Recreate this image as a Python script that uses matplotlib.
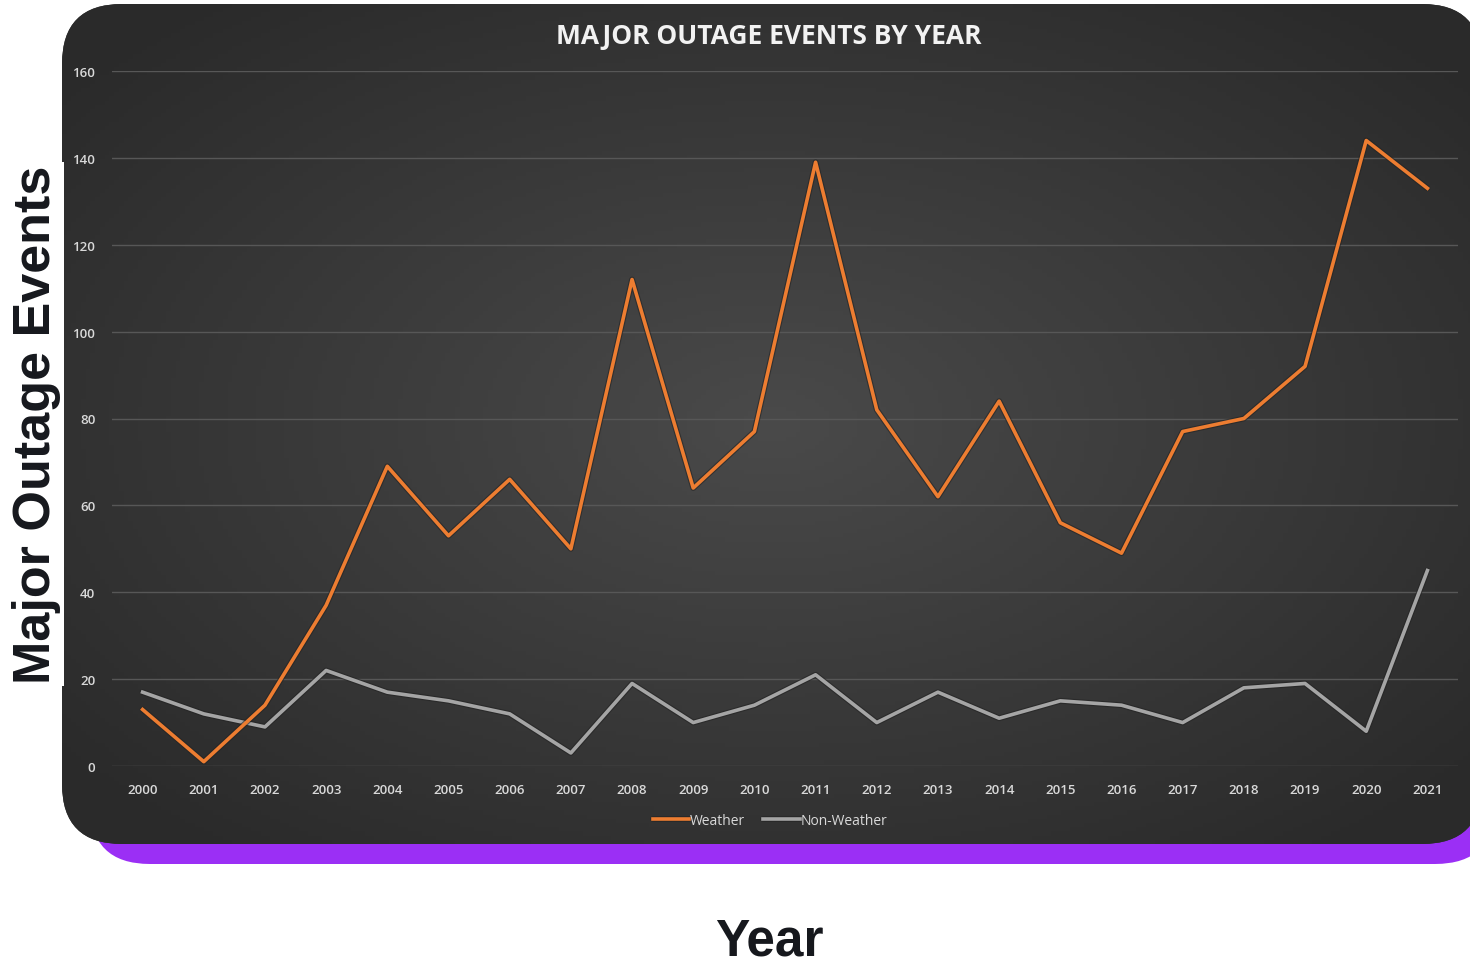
import matplotlib.pyplot as plt
import numpy as np
from matplotlib.colors import LinearSegmentedColormap
from matplotlib.patches import FancyBboxPatch
import matplotlib.patheffects as pe

# =========================
# DATA
# =========================

years = list(range(2000, 2022))
weather = [13, 1, 14, 37, 69, 53, 66, 50, 112, 64, 77, 139,
           82, 62, 84, 56, 49, 77, 80, 92, 144, 133]
non_weather = [17, 12, 9, 22, 17, 15, 12, 3, 19, 10, 14, 21,
               10, 17, 11, 15, 14, 10, 18, 19, 8, 45]
y_ticks = [0, 20, 40, 60, 80, 100, 120, 140, 160]

W, H = 1470, 970

fig = plt.figure(figsize=(W / 100, H / 100), dpi=100, facecolor="white")

# background layer in pixel coordinates
bg = fig.add_axes([0, 0, 1, 1])
bg.set_xlim(0, W)
bg.set_ylim(H, 0)
bg.axis("off")

purple = FancyBboxPatch(
    (90, 25), 1405, 840,
    boxstyle="round,pad=0,rounding_size=60",
    facecolor="#9b2ff5", edgecolor="none",
)
bg.add_patch(purple)

panel = FancyBboxPatch(
    (62, 5), 1420, 840,
    boxstyle="round,pad=0,rounding_size=60",
    facecolor="#333333", edgecolor="none",
)
bg.add_patch(panel)

# radial gradient inside the panel
gx, gy = np.meshgrid(np.linspace(-1, 1, 300), np.linspace(-1, 1, 200))
r = np.clip(np.sqrt(gx ** 2 + gy ** 2) / 1.3, 0, 1)
cmap = LinearSegmentedColormap.from_list("panel", ["#4a4a4a", "#2a2a2a"])
img = bg.imshow(r, cmap=cmap, vmin=0, vmax=1,
                extent=(62, 1482, 845, 5), aspect="auto", zorder=2)
img.set_clip_path(panel)

# =========================
# CHART
# =========================

left, right = 112, 1458
top, bottom = 72, 767
ax = fig.add_axes([left / W, 1 - bottom / H, (right - left) / W, (bottom - top) / H])
ax.set_facecolor("none")
ax.set_zorder(3)

shadow = [pe.Stroke(linewidth=4.2, foreground="#222222", alpha=0.6,
                    joinstyle="round", capstyle="round"), pe.Normal()]
ax.plot(years, weather, color="#ed7d31", linewidth=2.6, label="Weather",
        solid_joinstyle="round", path_effects=shadow, zorder=4)
ax.plot(years, non_weather, color="#a5a5a5", linewidth=2.6, label="Non-Weather",
        solid_joinstyle="round", path_effects=shadow, zorder=3)

ax.set_xlim(1999.5, 2021.5)
ax.set_ylim(0, 160)
ax.set_xticks(years)
ax.set_xticklabels([str(y) for y in years])
ax.set_yticks(y_ticks)

ax.grid(axis="y", color="#575757", linewidth=1)
ax.set_axisbelow(True)
for s in ax.spines.values():
    s.set_visible(False)

ax.tick_params(axis="both", length=0, colors="#d9d9d9", labelsize=9.5)
ax.tick_params(axis="y", pad=12)
ax.tick_params(axis="x", pad=12)
for lab in ax.get_xticklabels() + ax.get_yticklabels():
    lab.set_fontfamily("Open Sans")
    lab.set_fontweight("semibold")

leg = ax.legend(
    loc="center", bbox_to_anchor=(0.489, -0.078), ncol=2, frameon=False,
    handlelength=2.6, handletextpad=0.1, columnspacing=1.3,
    prop={"family": "Open Sans", "size": 10},
)
for t in leg.get_texts():
    t.set_color("#d9d9d9")

fig.text(769 / W, 1 - 36 / H, "MAJOR OUTAGE EVENTS BY YEAR", ha="center", va="center",
         color="#f2f2f2", fontsize=19, fontweight="bold", family="Open Sans",
         zorder=5)

fig.text(37 / W, 1 - 425 / H, "Major Outage Events", rotation=90, ha="center",
         va="center", color="#16181d", fontsize=37.5, fontweight="bold",
         family="Liberation Sans",
         bbox=dict(facecolor="white", edgecolor="none", pad=2), zorder=6)

fig.text(769 / W, 1 - 942 / H, "Year", ha="center", va="center",
         color="#16181d", fontsize=37, fontweight="bold",
         family="Liberation Sans")

plt.savefig("out.png", dpi=100, facecolor="white")
plt.close()
